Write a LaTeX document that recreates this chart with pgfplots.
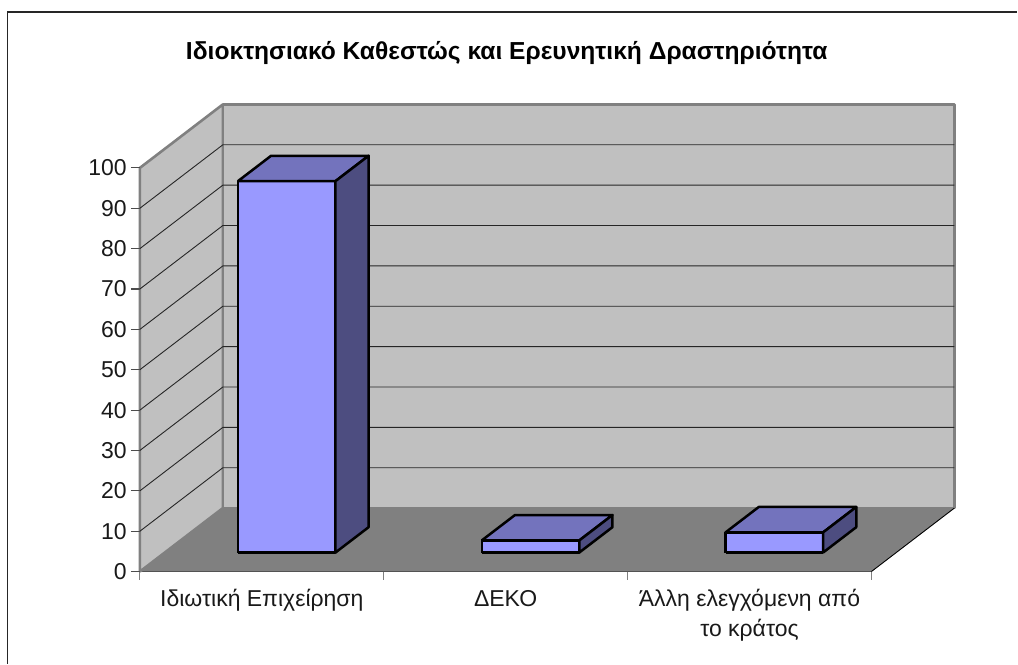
\documentclass[border=0pt]{standalone}
\usepackage{fontspec}
\setmainfont{Liberation Sans}
\usepackage{pgfplots}
\pgfplotsset{compat=1.18}
\usetikzlibrary{calc}
\definecolor{wall}{HTML}{C0C0C0}
\definecolor{floorgray}{HTML}{808080}
\definecolor{barfront}{HTML}{9999FF}
\definecolor{bartop}{HTML}{7373BD}
\definecolor{barside}{HTML}{4D4D80}
\begin{document}
\begin{tikzpicture}[x=1pt,y=1pt]
\begin{axis}[
  x={(244pt,0pt)}, y={(83pt,63.5pt)}, z={(0pt,4.04pt)},
  xmin=-0.5, xmax=2.5, ymin=0, ymax=1, zmin=0, zmax=100,
  clip=false,
  axis lines=left,
  axis line style={-},
  x axis line style={black,line width=1.1pt},
  y axis line style={draw=none},
  z axis line style={floorgray,line width=1.8pt},
  xtick={0,1,2},
  xticklabels={\strut Ιδιωτική Επιχείρηση,\strut ΔΕΚΟ,{\strut Άλλη ελεγχόμενη από\\\strut το κράτος}},
  ytick=\empty,
  ztick={0,10,...,100},
  major tick length=0pt,
  /pgf/number format/assume math mode=true,
  ticklabel style={font=\fontsize{23}{30}\selectfont,text=black!90},
  xticklabel style={align=center,anchor=north,inner sep=0pt,yshift=-14pt},
  zticklabel style={anchor=east,inner sep=0pt,xshift=-13pt},
  no markers,
]
\coordinate (O) at (axis cs:-0.5,0,0);
% walls and floor
\addplot3[fill=wall,draw=floorgray,line width=2.6pt,line join=round] coordinates {(-0.5,0,0) (-0.5,1,0) (-0.5,1,100) (-0.5,0,100) (-0.5,0,0)};
\addplot3[fill=wall,draw=floorgray,line width=2.6pt,line join=round] coordinates {(-0.5,1,0) (2.5,1,0) (2.5,1,100) (-0.5,1,100) (-0.5,1,0)};
\addplot3[fill=floorgray,draw=none] coordinates {(-0.5,0,0) (2.5,0,0) (2.5,1,0) (-0.5,1,0) (-0.5,0,0)};
\addplot3[black,line width=0.9pt] coordinates {(2.5,0,0) (2.5,1,0)};
% gridlines across the side and back walls
\pgfplotsinvokeforeach{10,20,...,90}{
  \addplot3[black!85,line width=0.9pt] coordinates {(-0.5,0,#1) (-0.5,1,#1) (2.5,1,#1)};
}
% tick marks, horizontal on the value axis and vertical between categories
\pgfplotsinvokeforeach{0,10,...,100}{
  \addplot3[black!70,line width=1.1pt] coordinates {(-0.5369,0,#1) (-0.5,0,#1)};
}
\pgfplotsinvokeforeach{-0.5,0.5,1.5,2.5}{
  \addplot3[floorgray,line width=1.2pt] coordinates {(#1,0,0) (#1,0,-2.2)};
}
% Ιδιωτική Επιχείρηση: 92
\addplot3[fill=barfront,draw=black,line width=2.5pt,line join=round] coordinates {(-0.2,0.3,0) (0.2,0.3,0) (0.2,0.3,92) (-0.2,0.3,92) (-0.2,0.3,0)};
\addplot3[fill=bartop,draw=black,line width=2.5pt,line join=round] coordinates {(-0.2,0.3,92) (0.2,0.3,92) (0.2,0.7,92) (-0.2,0.7,92) (-0.2,0.3,92)};
\addplot3[fill=barside,draw=black,line width=2.5pt,line join=round] coordinates {(0.2,0.3,0) (0.2,0.7,0) (0.2,0.7,92) (0.2,0.3,92) (0.2,0.3,0)};
% ΔΕΚΟ: 3
\addplot3[fill=barfront,draw=black,line width=2.5pt,line join=round] coordinates {(0.8,0.3,0) (1.2,0.3,0) (1.2,0.3,3) (0.8,0.3,3) (0.8,0.3,0)};
\addplot3[fill=bartop,draw=black,line width=2.5pt,line join=round] coordinates {(0.8,0.3,3) (1.2,0.3,3) (1.2,0.7,3) (0.8,0.7,3) (0.8,0.3,3)};
\addplot3[fill=barside,draw=black,line width=2.5pt,line join=round] coordinates {(1.2,0.3,0) (1.2,0.7,0) (1.2,0.7,3) (1.2,0.3,3) (1.2,0.3,0)};
% Άλλη ελεγχόμενη από το κράτος: 5
\addplot3[fill=barfront,draw=black,line width=2.5pt,line join=round] coordinates {(1.8,0.3,0) (2.2,0.3,0) (2.2,0.3,5) (1.8,0.3,5) (1.8,0.3,0)};
\addplot3[fill=bartop,draw=black,line width=2.5pt,line join=round] coordinates {(1.8,0.3,5) (2.2,0.3,5) (2.2,0.7,5) (1.8,0.7,5) (1.8,0.3,5)};
\addplot3[fill=barside,draw=black,line width=2.5pt,line join=round] coordinates {(2.2,0.3,0) (2.2,0.7,0) (2.2,0.7,5) (2.2,0.3,5) (2.2,0.3,0)};
\end{axis}
% outer chart frame, open on the right and at the bottom
\draw[black!85,line width=1.5pt] ($(O)+(-132.5,-92)$) -- ($(O)+(-132.5,560)$) -- ($(O)+(878,560)$);
\node[font=\fontsize{24.6}{28}\selectfont\bfseries,text=black,inner sep=0pt] at ($(O)+(367,519)$) {Ιδιοκτησιακό Καθεστώς και Ερευνητική Δραστηριότητα};
\path[use as bounding box] ($(O)+(-140,-92)$) rectangle ($(O)+(878,572)$);
\end{tikzpicture}
\end{document}
